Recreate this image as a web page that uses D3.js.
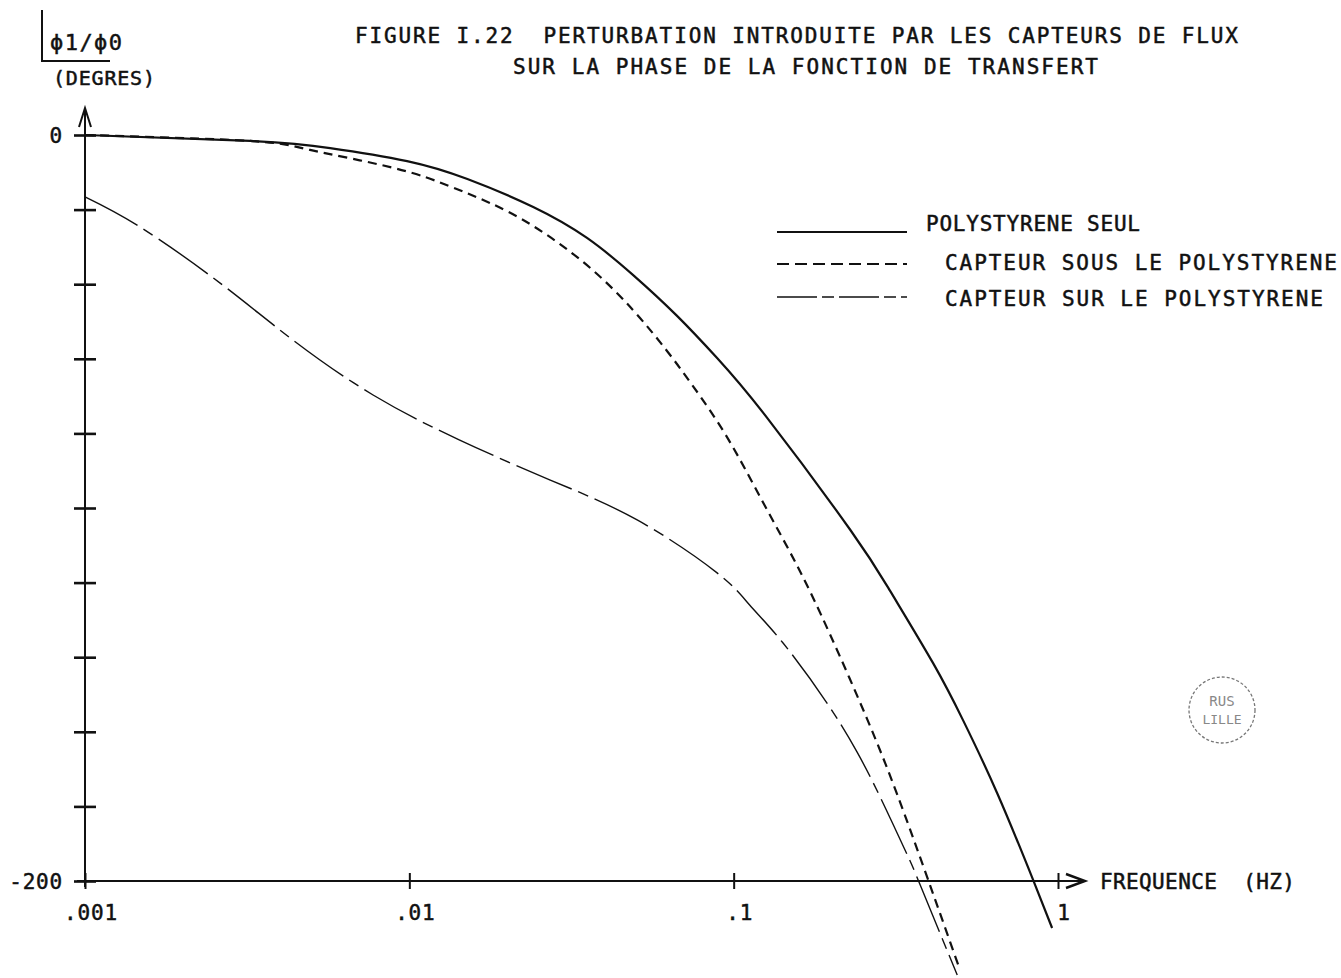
<!DOCTYPE html>
<html>
<head>
<meta charset="utf-8">
<script src="https://cdn.jsdelivr.net/npm/d3@7"></script>
<style>
  body { margin: 0; background: #fff; }
  svg text { font-family: "DejaVu Sans Mono", monospace; fill: #111; stroke: #111; stroke-width: 0.5px; white-space: pre; }
</style>
</head>
<body>
<div id="chart"></div>
<script>
// ----------------------------------------------------------------------
// data (frequency in Hz, phase in degrees)

var freqSolid  = [0.001, 0.00323, 0.00570, 0.00984, 0.0151, 0.0241, 0.0353, 0.0489, 0.0669, 0.0889, 0.127, 0.229, 0.304, 0.412, 0.509, 0.649, 0.838, 0.959];
var phaseSolid = [0, -1.6, -3.5, -7.0, -11.8, -19.3, -27.6, -37.5, -48.5, -59.8, -75.9, -105.9, -122.3, -141.6, -156.8, -176.4, -199.7, -212.6];

var freqDash  = [0.001, 0.00323, 0.00494, 0.00891, 0.0133, 0.0177, 0.0241, 0.0353, 0.0489, 0.0623, 0.0749, 0.0954, 0.123, 0.157, 0.198, 0.258, 0.319, 0.397, 0.499];
var phaseDash = [0, -1.6, -4.0, -8.8, -13.7, -18.2, -24.4, -34.9, -46.9, -57.9, -67.3, -81.0, -98.4, -115.5, -133.8, -156.6, -176.7, -199.5, -223.9];

var freqDashDot  = [0.001, 0.00148, 0.00261, 0.00438, 0.00773, 0.0143, 0.0272, 0.0504, 0.0889, 0.112, 0.142, 0.194, 0.240, 0.283, 0.343, 0.376, 0.489];
var phaseDashDot = [-16.6, -24.7, -39.7, -55.0, -69.7, -81.8, -92.5, -103.2, -117.4, -126.0, -136.2, -152.3, -165.4, -177.5, -193.0, -201.1, -225.2];

var xTicks = [0.001, 0.01, 0.1, 1];
var xTickLabels = [".001", ".01", ".1", "1"];
var yTicks = [0, -20, -40, -60, -80, -100, -120, -140, -160, -180, -200];
var yTickLabels = {"0": "0", "-200": "-200"};

var seriesNames = ["POLYSTYRENE SEUL", "CAPTEUR SOUS LE POLYSTYRENE", "CAPTEUR SUR LE POLYSTYRENE"];

// ----------------------------------------------------------------------

var width = 1341, height = 978;

var svg = d3.select("#chart").append("svg")
    .attr("width", width)
    .attr("height", height);

var x = d3.scaleLog().domain([0.001, 1]).range([85, 1058]);
var y = d3.scaleLinear().domain([0, -200]).range([135, 881]);

var x0 = x(0.001), yBase = y(-200);

function label(xp, yp, str, size, len) {
    var t = svg.append("text").attr("x", xp).attr("y", yp)
        .attr("xml:space", "preserve")
        .style("font-size", size + "px")
        .text(str);
    if (len) t.attr("textLength", len).attr("lengthAdjust", "spacing");
    return t;
}

// title
label(355, 43, "FIGURE I.22  PERTURBATION INTRODUITE PAR LES CAPTEURS DE FLUX", 21, 883);
label(513, 74, "SUR LA PHASE DE LA FONCTION DE TRANSFERT", 21, 585);

// y label with its little corner box
svg.append("path").attr("d", "M42,10 V61 H110")
    .attr("fill", "none").attr("stroke", "#111").attr("stroke-width", 2);
label(50, 50, "\u03d51/\u03d50", 22, 72);
label(53, 85, "(DEGRES)", 20, 102);

// y axis: ticks on both sides of the line
var yAxisL = d3.axisLeft(y).tickValues(yTicks).tickSize(11).tickFormat("");
var yAxisR = d3.axisRight(y).tickValues(yTicks).tickSize(11).tickFormat("");
[yAxisL, yAxisR].forEach(function(ax) {
    var g = svg.append("g").attr("transform", "translate(" + x0 + ",0)").call(ax);
    g.select(".domain").remove();
    g.selectAll("line").attr("stroke", "#111").attr("stroke-width", 2.6);
});
svg.selectAll(".ylab")
    .data(yTicks.filter(function(d) { return yTickLabels[d] !== undefined; }))
    .enter().append("text")
    .attr("class", "ylab")
    .attr("x", 63)
    .attr("y", function(d) { return y(d) + 8; })
    .attr("text-anchor", "end")
    .style("font-size", "21px").style("letter-spacing", "0.8px")
    .text(function(d) { return yTickLabels[d]; });

svg.append("line")
    .attr("x1", x0).attr("x2", x0).attr("y1", yBase + 6).attr("y2", 108)
    .attr("stroke", "#111").attr("stroke-width", 2);
svg.append("path").attr("d", "M" + (x0 - 6) + ",127 L" + x0 + ",108 L" + (x0 + 6) + ",127")
    .attr("fill", "none").attr("stroke", "#111").attr("stroke-width", 2);

// x axis
var xAxisB = d3.axisBottom(x).tickValues(xTicks).tickSize(8).tickFormat("");
var xAxisT = d3.axisTop(x).tickValues(xTicks).tickSize(8).tickFormat("");
[xAxisB, xAxisT].forEach(function(ax) {
    var g = svg.append("g").attr("transform", "translate(0," + yBase + ")").call(ax);
    g.select(".domain").remove();
    g.selectAll("line").attr("stroke", "#111").attr("stroke-width", 2);
});
svg.append("line")
    .attr("x1", x0 - 8).attr("x2", 1084).attr("y1", yBase).attr("y2", yBase)
    .attr("stroke", "#111").attr("stroke-width", 2);
svg.append("path").attr("d", "M1066," + (yBase - 7) + " L1085," + yBase + " L1066," + (yBase + 7))
    .attr("fill", "none").attr("stroke", "#111").attr("stroke-width", 2.4);

svg.selectAll(".xlab")
    .data(xTicks)
    .enter().append("text")
    .attr("class", "xlab")
    .attr("x", function(d) { return x(d) + 6; })
    .attr("y", yBase + 39)
    .attr("text-anchor", "middle")
    .style("font-size", "21px").style("letter-spacing", "0.8px")
    .text(function(d, i) { return xTickLabels[i]; });

label(1100, yBase + 8, "FREQUENCE  (HZ)", 21, 195);

// ----------------------------------------------------------------------
// curves

var line = d3.line()
    .x(function(d) { return x(d[0]); })
    .y(function(d) { return y(d[1]); })
    .curve(d3.curveNatural);

var series = [
    {f: freqSolid,   p: phaseSolid,   dash: null,          legDash: null,          w: 2.2},
    {f: freqDash,    p: phaseDash,    dash: "9,6",         legDash: "12,6",        w: 2.2},
    {f: freqDashDot, p: phaseDashDot, dash: "60,7,11,7",   legDash: "40,5,12,5",   w: 1.4}
];

series.forEach(function(s) {
    svg.append("path")
        .datum(d3.zip(s.f, s.p))
        .attr("d", line)
        .attr("fill", "none")
        .attr("stroke", "#111")
        .attr("stroke-width", s.w)
        .attr("stroke-dasharray", s.dash);
});

// legend
var legY = [232, 264, 297];
var legTextX = [926, 945, 945];
var legTextY = [231, 270, 306];
var legTextLen = [214, 392, 378];
series.forEach(function(s, i) {
    svg.append("line")
        .attr("x1", 777).attr("x2", 907).attr("y1", legY[i]).attr("y2", legY[i])
        .attr("stroke", "#111").attr("stroke-width", s.w)
        .attr("stroke-dasharray", s.legDash);
    label(legTextX[i], legTextY[i], seriesNames[i], 21, legTextLen[i]);
});

// library stamp
var stamp = svg.append("g").attr("transform", "translate(1222,710)");
stamp.append("circle").attr("r", 33)
    .attr("fill", "none").attr("stroke", "#777").attr("stroke-width", 1.3)
    .attr("stroke-dasharray", "3,2");
stamp.append("text").attr("y", -4).attr("text-anchor", "middle")
    .style("font-size", "14px").style("fill", "#888").style("stroke", "none").text("RUS");
stamp.append("text").attr("y", 14).attr("text-anchor", "middle")
    .style("font-size", "13px").style("fill", "#888").style("stroke", "none").text("LILLE");
</script>
</body>
</html>
